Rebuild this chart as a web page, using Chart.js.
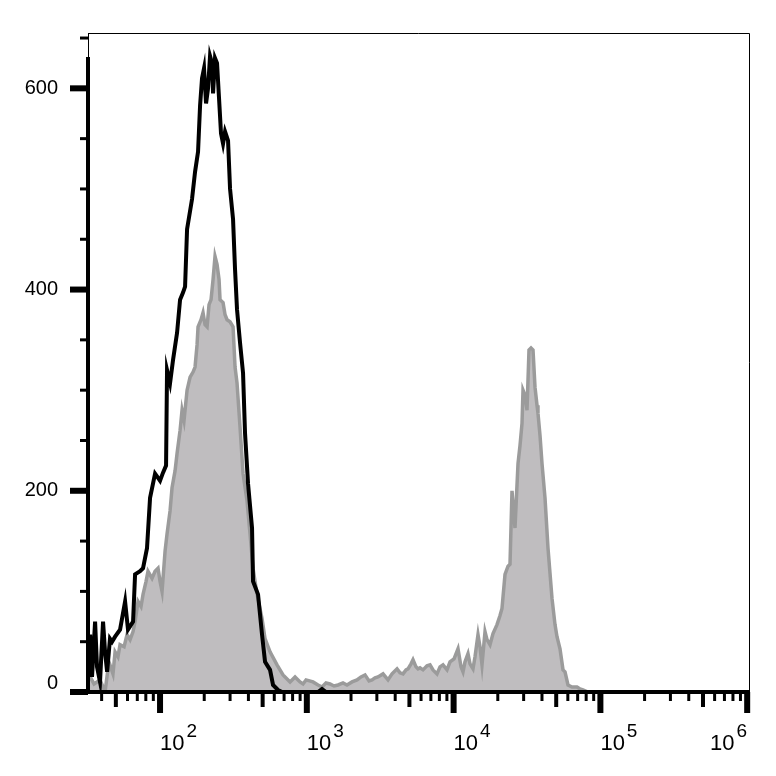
<!DOCTYPE html>
<html lang="en">
<head>
<meta charset="UTF-8">
<title>Flow cytometry histogram</title>
<script src="https://cdn.jsdelivr.net/npm/chart.js"></script>
<style>
  html, body { margin: 0; padding: 0; background: #fff; }
  #wrap { width: 776px; height: 776px; }
</style>
</head>
<body>
<div id="wrap"><canvas id="histChart" width="776" height="776"></canvas></div>
<script>
// control (black outline): fluorescence intensity and event counts
const controlX = [32.3, 33.4, 34.4, 36.1, 37.2, 39.0, 40.9, 42.2, 43.6, 45.6, 47.1, 49.4, 53.4, 57.8, 60.5,
  65.5, 67.6, 73.1, 76.6, 81.5, 85.5, 92.5, 100, 104.8, 109.9, 111.6, 117.0, 122.6, 130.6, 136.9, 143.4,
  148.1, 152.8, 165.2, 173.2, 181.5, 187.4, 193.2, 199.4, 205.8, 212.4, 219.1, 226.1, 229.7, 236.9, 244.5,
  252.3, 260.3, 268.7, 277.3, 290.6, 299.9, 314.3, 324.3, 334.6, 350.8, 367.7, 379.4, 397.7, 423.4, 430.1,
  465.2, 495.3, 519.2, 561.5, 588.6, 636.7, 677.8, 1192, 1269, 1351, 1029000];
const controlY = [30, 57, 15, 70, 25, 10, 70, 40, 20, 53, 50, 55, 62, 90, 62,
  70, 117, 120, 123, 143, 193, 217, 210, 218, 225, 320, 307, 330, 357, 390, 397,
  403, 460, 490, 517, 537, 583, 610, 620, 585, 600, 632, 625, 595, 630, 625,
  590, 555, 545, 557, 548, 500, 470, 420, 380, 347, 317, 257, 207, 163, 110,
  97, 57, 30, 22, 7, 2, 0, 0, 3, 0, 0];

// stained sample (grey filled)
const stainedX = [32.3, 33.4, 35.5, 37.2, 39.0, 40.9, 42.2, 44.2, 45.6, 47.8, 49.4, 51.7, 53.4, 56.9, 59.6,
  62.5, 65.5, 67.6, 70.8, 74.2, 76.6, 80.3, 82.8, 88.2, 92.5, 96.9, 100, 103.2, 108.2, 111.6, 117.0, 120.7,
  126.6, 130.6, 136.9, 141.2, 145.7, 152.8, 160.2, 167.8, 173.2, 178.7, 181.5, 190.2, 196.3, 202.6, 209.1,
  215.7, 222.6, 229.7, 236.9, 244.5, 252.3, 256.3, 268.7, 277.3, 286.1, 299.9, 314.3, 324.3, 334.6, 350.8,
  367.7, 391.4, 410.4, 430.1, 458.0, 495.3, 519.2, 561.5, 626.6, 688.5, 768.6, 831.2, 898.8, 942.2, 987.6,
  1102, 1192, 1269, 1351, 1439, 1532, 1632, 1764, 1878, 2032, 2198, 2340, 2492, 2653, 2781, 2915, 3055,
  3304, 3574, 3806, 4116, 4314, 4522, 4741, 4891, 5127, 5289, 5545, 5721, 5904, 6188, 6588, 6908, 7238,
  7708, 8080, 8467, 9019, 9451, 10063, 10715, 11231, 11590, 11959, 12533, 12934, 13556, 13988, 14661,
  15124, 15612, 16366, 16888, 17701, 18553, 19752, 20710, 21363, 22394, 23482, 24222, 24991, 25785, 26198,
  27461, 28338, 29242, 29706, 30646, 31623, 32629, 33676, 34748, 35853, 37000, 37577, 38782, 40016, 41942,
  43961, 46814, 49066, 50624, 53065, 55630, 57400, 60160, 64040, 69270, 72610, 76120, 82350, 1029000];
const stainedY = [13, 15, 8, 10, 12, 5, 0, 23, 27, 18, 40, 35, 47, 45, 57,
  52, 60, 70, 90, 85, 97, 110, 120, 113, 120, 123, 110, 100, 140, 157, 180, 203,
  220, 237, 260, 280, 270, 300, 313, 318, 323, 345, 363, 370, 377, 365, 363,
  385, 390, 410, 433, 425, 410, 390, 387, 375, 370, 368, 363, 323, 307, 263,
  217, 190, 157, 123, 97, 73, 53, 40, 27, 17, 10, 15, 10, 8, 12,
  10, 7, 5, 9, 8, 6, 7, 9, 7, 10, 12, 15, 17, 11, 12, 14, 15,
  18, 12, 18, 23, 19, 18, 22, 23, 28, 32, 25, 23, 24, 22, 26, 27, 22,
  18, 25, 27, 22, 30, 33, 43, 25, 20, 30, 38, 28, 23, 35, 57,
  45, 27, 60, 52, 47, 58, 67, 76, 83, 117, 125, 127, 200, 175, 163,
  227, 245, 267, 300, 295, 280, 340, 342, 340, 303, 285, 277, 255, 227, 193,
  143, 93, 67, 55, 43, 22, 20, 7, 5, 5, 3, 2, 0, 0];

const xDecades = [2, 3, 4, 5, 6];
const yTickLabels = [0, 200, 400, 600];

const FONT = '"Liberation Sans", Arial, sans-serif';

function toPoints(xs, ys) {
  return xs.map((x, i) => ({ x: x, y: ys[i] }));
}

// draws the frame, ticks and labels by hand (variable tick lengths, 10^n labels)
const cytoAxes = {
  id: 'cytoAxes',
  afterDraw(chart) {
    const ctx = chart.ctx;
    const a = chart.chartArea;
    const xs = chart.scales.x;
    const ys = chart.scales.y;
    ctx.save();
    ctx.strokeStyle = '#000';
    ctx.fillStyle = '#000';

    // thin frame top / right
    ctx.lineWidth = 1;
    ctx.beginPath();
    ctx.moveTo(a.left, a.top + 0.5);
    ctx.lineTo(a.right + 0.5, a.top + 0.5);
    ctx.lineTo(a.right + 0.5, a.bottom);
    ctx.moveTo(a.left + 0.5, a.top);
    ctx.lineTo(a.left + 0.5, a.top + 26);
    ctx.stroke();

    // thick axis lines
    ctx.lineWidth = 4;
    ctx.beginPath();
    ctx.moveTo(a.left, a.top + 24);
    ctx.lineTo(a.left, a.bottom + 2);
    ctx.moveTo(a.left - 2, a.bottom);
    ctx.lineTo(a.right + 1, a.bottom);
    ctx.stroke();

    // y ticks every 50
    for (let v = 0; v <= ys.max; v += 50) {
      const py = ys.getPixelForValue(v);
      const major = yTickLabels.includes(v);
      ctx.lineWidth = major ? 6 : 3;
      ctx.beginPath();
      ctx.moveTo(a.left - (major ? 18 : 8), py);
      ctx.lineTo(a.left, py);
      ctx.stroke();
    }
    ctx.font = '20px ' + FONT;
    ctx.textAlign = 'right';
    ctx.textBaseline = 'middle';
    yTickLabels.forEach(v => {
      const py = Math.min(ys.getPixelForValue(v), a.bottom - 9);
      ctx.fillText(String(v), 58, py);
    });

    // x ticks: decades long, 5x medium, the rest short
    for (let d = 1; d <= 6; d++) {
      for (let m = 1; m <= 9; m++) {
        const v = m * Math.pow(10, d);
        if (v < xs.min || v > xs.max) continue;
        const px = xs.getPixelForValue(v);
        let len = 9, w = 3;
        if (m === 1) { len = 21; w = 6; }
        else if (m === 5) { len = 15; w = 4; }
        ctx.lineWidth = w;
        ctx.beginPath();
        ctx.moveTo(px, a.bottom);
        ctx.lineTo(px, a.bottom + len);
        ctx.stroke();
      }
    }

    // x labels 10^n
    ctx.textAlign = 'left';
    ctx.textBaseline = 'alphabetic';
    xDecades.forEach(d => {
      const px = xs.getPixelForValue(Math.pow(10, d));
      ctx.font = '22px ' + FONT;
      const wBase = ctx.measureText('10').width;
      ctx.font = '19px ' + FONT;
      const wExp = ctx.measureText(String(d)).width;
      let left = px;
      if (left + wBase + wExp + 2 > 747) left = 747 - wBase - wExp - 2;
      ctx.font = '22px ' + FONT;
      ctx.fillText('10', left, 750);
      ctx.font = '19px ' + FONT;
      ctx.fillText(String(d), left + wBase + 2, 737);
    });
    ctx.restore();
  }
};

new Chart(document.getElementById('histChart'), {
  type: 'line',
  data: {
    datasets: [
      {
        label: 'Control',
        data: toPoints(controlX, controlY),
        borderColor: '#000000',
        borderWidth: 4,
        pointRadius: 0,
        fill: false,
        tension: 0
      },
      {
        label: 'Stained',
        data: toPoints(stainedX, stainedY),
        borderColor: '#9b9b9b',
        backgroundColor: '#bfbdbf',
        borderWidth: 3.5,
        pointRadius: 0,
        fill: 'origin',
        tension: 0
      }
    ]
  },
  options: {
    responsive: false,
    animation: false,
    layout: { padding: { left: 88, right: 27, top: 33, bottom: 84 } },
    plugins: { legend: { display: false }, tooltip: { enabled: false } },
    scales: {
      x: { type: 'logarithmic', min: 32.3, max: 1029000, display: false },
      y: { type: 'linear', min: 0, max: 655, display: false }
    }
  },
  plugins: [cytoAxes]
});
</script>
</body>
</html>
